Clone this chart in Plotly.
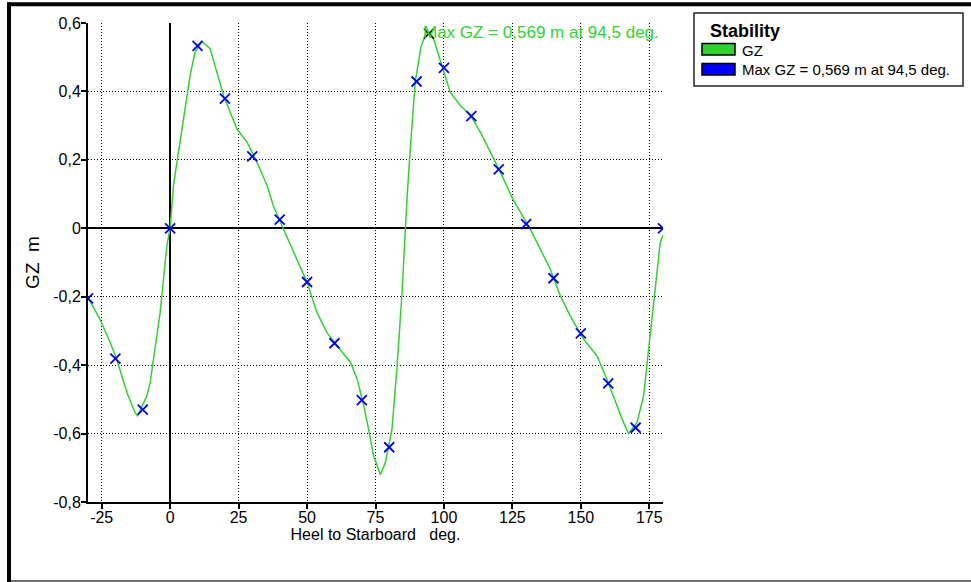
import plotly.graph_objects as go

# ---- data ----
curve_heel = [-30, -25.6, -21.9, -19.5, -15.8, -12.8, -11.9, -8.5, -7.3, -3.65, -1.2, 0,
              1.2, 3.65, 5.5, 7.3, 9.1, 11.6, 14.6, 17.1, 19.5, 21.9, 24.4, 28.1, 31.7,
              35.4, 37.7, 40.8, 45.1, 50, 53.6, 57.3, 61, 65.9, 68.3, 70.7, 72.5, 74.3,
              76.8, 78.6, 81, 82.9, 84.7, 85.9, 86.5, 87.7, 89.5, 91.6, 93.8, 94.5, 96.2,
              98.1, 99.9, 102.3, 106, 109.7, 113.3, 117, 120.6, 125.1, 127.9, 131.5,
              135.2, 138.8, 142.5, 146.1, 151, 155.9, 159.5, 163.2, 165.6, 167.4, 170.5,
              172.9, 174.8, 176.6, 179, 180]
curve_gz = [-0.203, -0.266, -0.334, -0.383, -0.48, -0.539, -0.548, -0.49, -0.451, -0.246, -0.051, 0.0,
            0.125, 0.252, 0.359, 0.447, 0.515, 0.546, 0.525, 0.457, 0.388, 0.34, 0.29, 0.252, 0.193,
            0.125, 0.066, 0.008, -0.07, -0.158, -0.246, -0.305, -0.344, -0.392, -0.441, -0.519, -0.588, -0.666,
            -0.72, -0.685, -0.588, -0.402, -0.187, 0.0, 0.086, 0.232, 0.427, 0.53, 0.578, 0.572, 0.554,
            0.505, 0.457, 0.398, 0.359, 0.33, 0.281, 0.222, 0.164, 0.086, 0.047, -0.002,
            -0.061, -0.119, -0.197, -0.256, -0.324, -0.373, -0.441, -0.519, -0.568, -0.6, -0.568,
            -0.49, -0.353, -0.207, -0.041, -0.02]

marker_heel = [-30, -20, -10, 0, 10, 20, 30, 40, 50, 60, 70, 80, 90, 100, 110, 120, 130,
               140, 150, 160, 170, 180]
marker_gz = [-0.205, -0.381, -0.53, 0.0, 0.533, 0.379, 0.21, 0.025, -0.157, -0.336, -0.502,
             -0.64, 0.429, 0.469, 0.328, 0.172, 0.012, -0.146, -0.307, -0.453, -0.583, 0.0]

max_heel = [94.5]
max_gz = [0.569]
max_label = "Max GZ = 0,569 m at 94,5 deg."

x_tickvals = [-25, 0, 25, 50, 75, 100, 125, 150, 175]
x_ticktext = ["-25", "0", "25", "50", "75", "100", "125", "150", "175"]
y_tickvals = [-0.8, -0.6, -0.4, -0.2, 0, 0.2, 0.4, 0.6]
y_ticktext = ["-0,8", "-0,6", "-0,4", "-0,2", "0", "0,2", "0,4", "0,6"]

legend_title = "Stability"
legend_items = ["GZ", max_label]

# ---- style ----
GREEN = "#2fd32f"
BLUE = "#0000ff"
FONT = "Liberation Sans, Arial, sans-serif"

W, H = 971, 582
L, R, T, B = 88, 308, 23, 80
PW, PH = W - L - R, H - T - B


def px(X):
    return (X - L) / PW


def py(Y):
    return (H - B - Y) / PH


fig = go.Figure()
fig.add_trace(go.Scatter(x=curve_heel, y=curve_gz, mode="lines",
                         line=dict(color=GREEN, width=1.5), name="GZ",
                         showlegend=False, hoverinfo="skip"))
fig.add_trace(go.Scatter(x=marker_heel, y=marker_gz, mode="markers",
                         marker=dict(symbol="x-thin", size=10,
                                     line=dict(color=BLUE, width=1.8)),
                         showlegend=False))
fig.add_trace(go.Scatter(x=max_heel, y=max_gz, mode="markers",
                         marker=dict(symbol="x-thin", size=10,
                                     line=dict(color="black", width=1.5)),
                         name=max_label, showlegend=False))

fig.add_annotation(x=max_heel[0], y=max_gz[0], text=max_label, showarrow=False,
                   xanchor="left", yanchor="middle", xshift=-8, yshift=1,
                   font=dict(family=FONT, size=17, color=GREEN))

axis_common = dict(showgrid=True, gridcolor="black", griddash="1px,2px", gridwidth=1,
                   zeroline=True, zerolinecolor="black", zerolinewidth=2,
                   showline=True, linecolor="black", linewidth=2,
                   ticks="outside", ticklen=5, tickwidth=1.5, tickcolor="black",
                   automargin=False,
                   tickfont=dict(family=FONT, size=16, color="black"))

fig.update_xaxes(range=[-30, 180], tickvals=x_tickvals, ticktext=x_ticktext,
                 ticklabelstandoff=-5,
                 title=dict(text="Heel to Starboard\u00a0\u00a0\u00a0deg.",
                            font=dict(family=FONT, size=16, color="black"), standoff=0),
                 **axis_common)
fig.update_yaxes(range=[-0.8, 0.6], tickvals=y_tickvals, ticktext=y_ticktext,
                 ticklabelstandoff=-3,
                 title=dict(text="GZ\u00a0\u00a0m",
                            font=dict(family=FONT, size=19, color="black"), standoff=9),
                 **axis_common)

shapes = [
    # outer frame
    dict(type="line", x0=px(7), x1=px(971), y0=py(4.3), y1=py(4.3),
         line=dict(color="black", width=4)),
    dict(type="line", x0=px(9), x1=px(9), y0=py(2.5), y1=py(582),
         line=dict(color="black", width=4)),
    dict(type="line", x0=px(11), x1=px(971), y0=py(581), y1=py(581),
         line=dict(color="#707070", width=2)),
    # legend box
    dict(type="rect", x0=px(694), x1=px(963), y0=py(13), y1=py(86),
         line=dict(color="#222222", width=1.5), fillcolor="white"),
    dict(type="rect", x0=px(702), x1=px(735), y0=py(43.5), y1=py(55),
         line=dict(color="black", width=1.5), fillcolor=GREEN),
    dict(type="rect", x0=px(702), x1=px(735), y0=py(63.5), y1=py(75),
         line=dict(color="black", width=1.5), fillcolor=BLUE),
]
for s in shapes:
    s.update(xref="paper", yref="paper", layer="above")
fig.update_layout(shapes=shapes)

fig.add_annotation(xref="paper", yref="paper", x=px(708), y=py(31), text="<b>%s</b>" % legend_title,
                   showarrow=False, xanchor="left", yanchor="middle",
                   font=dict(family=FONT, size=18, color="black"))
for i, item in enumerate(legend_items):
    fig.add_annotation(xref="paper", yref="paper", x=px(740), y=py(50 + 19.5 * i), text=item,
                       showarrow=False, xanchor="left", yanchor="middle",
                       font=dict(family=FONT, size=15, color="black"))

fig.update_layout(width=W, height=H, margin=dict(l=L, r=R, t=T, b=B, autoexpand=False),
                  plot_bgcolor="white", paper_bgcolor="white",
                  separators=", ", showlegend=False,
                  font=dict(family=FONT, color="black"))

fig.write_html("out.html", config={"displayModeBar": False},
               post_script="document.body.style.margin='0px';")
